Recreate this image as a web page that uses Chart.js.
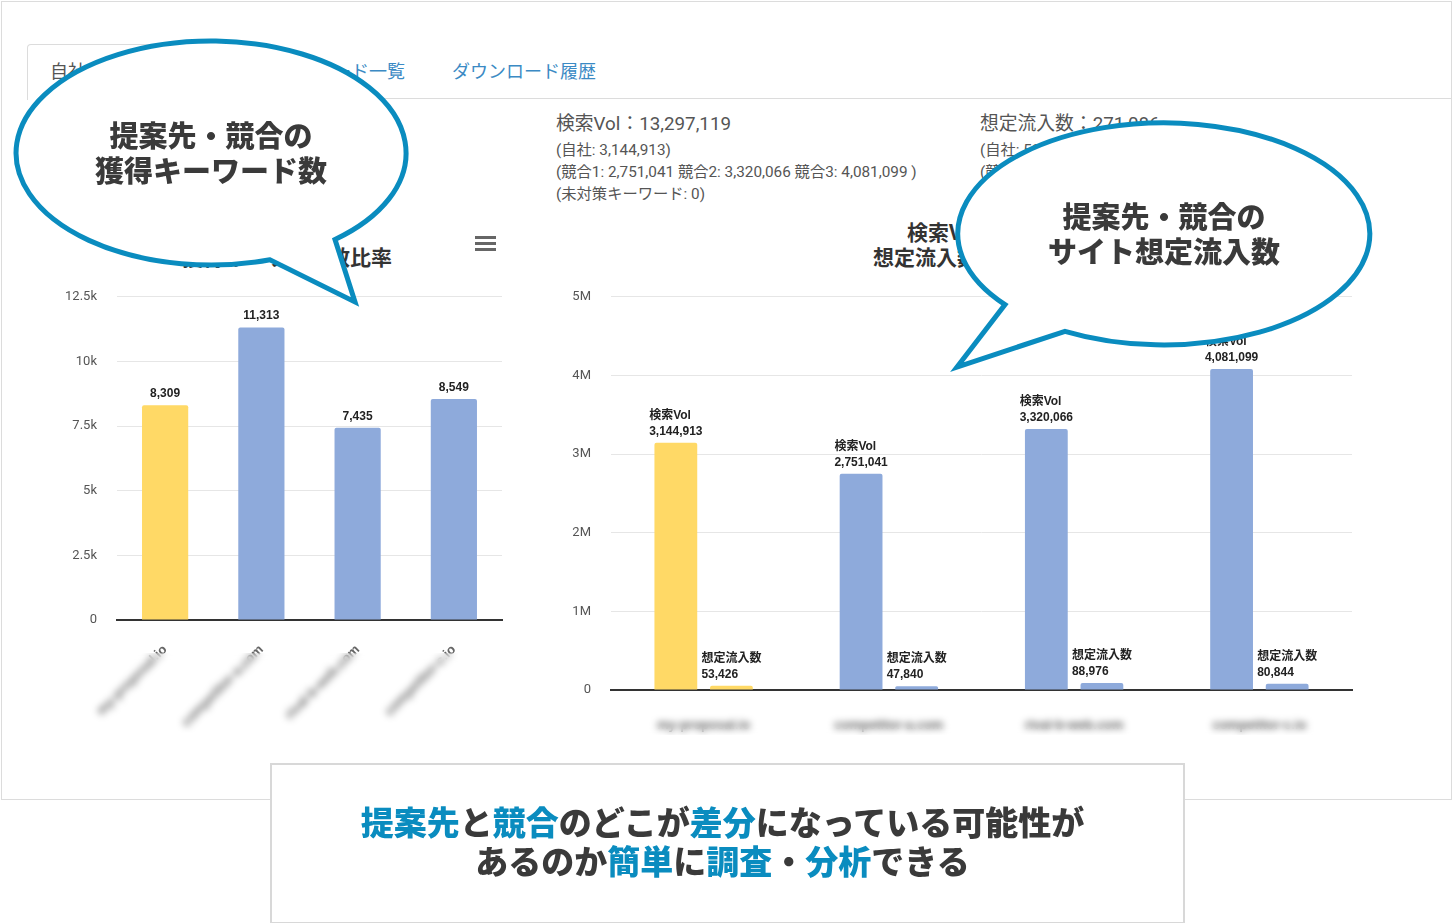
<!DOCTYPE html>
<html lang="ja">
<head>
<meta charset="utf-8">
<script src="https://cdn.jsdelivr.net/npm/chart.js@4"></script>
<style>
  body { margin: 0; width: 1453px; height: 923px; background: #fff; position: relative; overflow: hidden;
         font-family: Roboto, "Noto Sans CJK JP", sans-serif; color: #555; }
  .abs { position: absolute; }
  #panel { left: 1px; top: 1px; width: 1449px; height: 797px; border: 1px solid #dcdcdc; }
  #tabline { left: 27px; top: 98px; width: 1425px; height: 0; border-top: 1px solid #dcdcdc; }
  #activeTab { left: 27px; top: 44px; width: 200px; height: 55px; border: 1px solid #dcdcdc; border-bottom: none;
               border-radius: 4px 4px 0 0; background: #fff; }
  .tab { top: 58px; font-size: 18px; line-height: 24px; color: #3b8ac4; font-family: "Noto Sans CJK JP", sans-serif; white-space: nowrap; }
  .info { font-size: 15.3px; line-height: 22px; color: #555; white-space: nowrap; }
  .info .big { font-size: 18.8px; line-height: 28px; margin-bottom: 1px; }
  .ctitle { font-family: "Noto Sans CJK JP", sans-serif; font-weight: 700; color: #333; font-size: 21px; line-height: 25px; white-space: nowrap; }
  .blur { backdrop-filter: blur(3.5px); -webkit-backdrop-filter: blur(3.5px); }
  #menu div { width: 21px; height: 3px; background: #666; margin-bottom: 3px; }
  .bubbleText { font-family: "Noto Sans CJK JP", sans-serif; font-weight: 900; font-size: 29px; line-height: 35px;
                color: #3a3a3a; text-align: center; white-space: nowrap; }
  #bottomBox { left: 270px; top: 763px; width: 911px; height: 157px; border: 2px solid #d8d8d8; background: #fff; }
  #bottomText { left: 265px; top: 802px; width: 915px; text-align: center; font-family: "Noto Sans CJK JP", sans-serif;
                font-weight: 900; font-size: 33px; line-height: 39px; color: #3a3a3a; white-space: nowrap; }
  #bottomText b { color: #0a8cbf; font-weight: 900; }
</style>
</head>
<body>
<div id="panel" class="abs"></div>
<div id="tabline" class="abs"></div>
<div id="activeTab" class="abs"></div>
<div class="abs tab" style="left:50px;color:#555">自社・競合サイト比較</div>
<div class="abs tab" style="left:243px">獲得キーワード一覧</div>
<div class="abs tab" style="left:452px">ダウンロード履歴</div>

<div class="abs info" style="left:556px;top:110px">
  <div class="big">検索Vol：13,297,119</div>
  <div>(自社: 3,144,913)</div>
  <div>(競合1: 2,751,041 競合2: 3,320,066 競合3: 4,081,099 )</div>
  <div>(未対策キーワード: 0)</div>
</div>
<div class="abs info" style="left:980px;top:110px">
  <div class="big">想定流入数：271,086</div>
  <div>(自社: 53,426)</div>
  <div>(競合1: 47,840 競合2: 88,976 競合3: 80,844 )</div>
  <div>(未対策キーワード: 0)</div>
</div>

<div class="abs ctitle" style="left:172px;top:244px;width:220px;text-align:right">獲得キーワード数比率</div>
<div id="menu" class="abs" style="left:475px;top:236px"><div></div><div></div><div></div></div>
<div class="abs ctitle" style="left:852px;top:219px;width:210px;text-align:center">検索Vol と<br>想定流入数の比較</div>

<div class="abs" style="left:40px;top:269px;width:470px;height:471px"><canvas id="kwChart"></canvas></div>
<div class="abs" style="left:540px;top:269px;width:830px;height:471px"><canvas id="volChart"></canvas></div>
<div class="abs blur" style="left:60px;top:653px;width:398px;height:92px"></div>
<div class="abs blur" style="left:630px;top:703px;width:690px;height:32px"></div>

<svg class="abs" style="left:0;top:0" width="1453" height="923">
  <g fill="#fff" stroke="#0a8cbf" stroke-width="5" stroke-linejoin="miter">
    <path d="M 270 259.8 A 195 112 0 1 1 335 239.5 L 355 302 Z"/>
    <path d="M 1005 304.6 A 206 111 0 1 1 1065 331.3 L 957 367 Z"/>
  </g>
</svg>
<div class="abs bubbleText" style="left:11px;top:117px;width:400px">提案先・競合の<br>獲得キーワード数</div>
<div class="abs bubbleText" style="left:964px;top:198px;width:400px">提案先・競合の<br>サイト想定流入数</div>

<div id="bottomBox" class="abs"></div>
<div id="bottomText" class="abs"><b>提案先</b>と<b>競合</b>のどこが<b>差分</b>になっている可能性が<br>あるのか<b>簡単</b>に<b>調査</b>・<b>分析</b>できる</div>

<script>
// サイト (x軸ラベルはぼかし表示)
const sites = ['my-proposal.io', 'competitor-a.com', 'rival-b-web.com', 'competitor-c.io'];
const keywordCounts = [8309, 11313, 7435, 8549];
const searchVol = [3144913, 2751041, 3320066, 4081099];
const estFlow = [53426, 47840, 88976, 80844];
const kwTicks = [0, 2500, 5000, 7500, 10000, 12500];
const kwTickLabels = ['0', '2.5k', '5k', '7.5k', '10k', '12.5k'];
const volTicks = [0, 1000000, 2000000, 3000000, 4000000, 5000000];
const volTickLabels = ['0', '1M', '2M', '3M', '4M', '5M'];
const seriesNames = ['検索Vol', '想定流入数'];

const YELLOW = '#ffd966';
const BLUE = '#8eaadb';
const colorFor = ctx => ctx.dataIndex === 0 ? YELLOW : BLUE;
const fmt = n => n.toLocaleString('en-US');

const valueLabels = {
  id: 'valueLabels',
  afterDatasetsDraw(chart) {
    const c = chart.ctx;
    c.save();
    c.fillStyle = '#222';
    chart.data.datasets.forEach((ds, di) => {
      chart.getDatasetMeta(di).data.forEach((bar, i) => {
        const val = fmt(ds.data[i]);
        if (chart.options.plugins.valueLabels.twoLine) {
          c.font = 'bold 12px "Liberation Sans", "Noto Sans CJK JP", sans-serif';
          const lines = [ds.label, val];
          const w = Math.max(...lines.map(t => c.measureText(t).width));
          c.textAlign = 'left';
          c.textBaseline = 'alphabetic';
          c.fillText(lines[0], bar.x - w / 2, bar.y - 24);
          c.fillText(lines[1], bar.x - w / 2, bar.y - 8);
        } else {
          c.font = 'bold 12px "Liberation Sans", sans-serif';
          c.textAlign = 'center';
          c.textBaseline = 'alphabetic';
          c.fillText(val, bar.x, bar.y - 8);
        }
      });
    });
    c.restore();
  }
};

const tickFont = { family: 'Roboto, "Liberation Sans", sans-serif', size: 13 };

new Chart(document.getElementById('kwChart'), {
  type: 'bar',
  data: {
    labels: sites,
    datasets: [{ label: '獲得キーワード数', data: keywordCounts, backgroundColor: colorFor,
                 borderRadius: 2, borderSkipped: 'bottom', barPercentage: 0.48, categoryPercentage: 1 }]
  },
  options: {
    responsive: true, maintainAspectRatio: false, animation: false,
    layout: { padding: { top: 5, right: 8, bottom: 0, left: 0 } },
    plugins: { legend: { display: false }, tooltip: { enabled: false }, valueLabels: { twoLine: false } },
    scales: {
      x: {
        grid: { display: false },
        border: { color: '#333', width: 2 },
        ticks: { color: '#666', font: { size: 13, weight: 'bold' }, minRotation: 45, maxRotation: 45, padding: 14 },
        afterFit: s => { s.height = 120; }
      },
      y: {
        min: 0, max: 12500,
        afterBuildTicks: s => { s.ticks = kwTicks.map(v => ({ value: v })); },
        grid: { color: '#e6e6e6', drawTicks: false },
        border: { display: false },
        ticks: { color: '#555', font: tickFont, padding: 20,
                 callback: v => kwTickLabels[kwTicks.indexOf(v)] },
        afterFit: s => { s.width = 77; }
      }
    }
  },
  plugins: [valueLabels]
});

new Chart(document.getElementById('volChart'), {
  type: 'bar',
  data: {
    labels: sites,
    datasets: [
      { label: seriesNames[0], data: searchVol, backgroundColor: colorFor, borderRadius: 2, borderSkipped: 'bottom',
        barPercentage: 0.77, categoryPercentage: 0.6 },
      { label: seriesNames[1], data: estFlow, backgroundColor: colorFor, borderRadius: 2, borderSkipped: 'bottom',
        barPercentage: 0.77, categoryPercentage: 0.6 }
    ]
  },
  options: {
    responsive: true, maintainAspectRatio: false, animation: false,
    layout: { padding: { top: 5, right: 18, bottom: 0, left: 0 } },
    plugins: { legend: { display: false }, tooltip: { enabled: false }, valueLabels: { twoLine: true } },
    scales: {
      x: {
        grid: { display: false },
        border: { color: '#333', width: 2 },
        ticks: { color: '#555', font: { size: 13, weight: 'bold' }, maxRotation: 0, padding: 20 },
        afterFit: s => { s.height = 50; }
      },
      y: {
        min: 0, max: 5000000,
        afterBuildTicks: s => { s.ticks = volTicks.map(v => ({ value: v })); },
        grid: { color: '#e6e6e6', drawTicks: false },
        border: { display: false },
        ticks: { color: '#555', font: tickFont, padding: 20,
                 callback: v => volTickLabels[volTicks.indexOf(v)] },
        afterFit: s => { s.width = 71; }
      }
    }
  },
  plugins: [valueLabels]
});
</script>
</body>
</html>
